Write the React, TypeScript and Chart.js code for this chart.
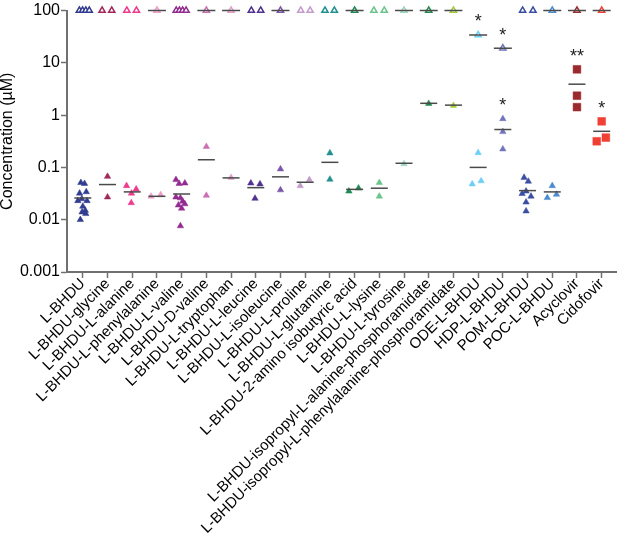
import React, { useEffect, useRef } from 'react';
import { Chart, registerables } from 'chart.js';

Chart.register(...registerables);

const FONT = '"Liberation Sans", Arial, Helvetica, sans-serif';

const categories = [
  'L-BHDU',
  'L-BHDU-glycine',
  'L-BHDU-L-alanine',
  'L-BHDU-L-phenylalanine',
  'L-BHDU-L-valine',
  'L-BHDU-D-valine',
  'L-BHDU-L-tryptophan',
  'L-BHDU-L-leucine',
  'L-BHDU-L-isoleucine',
  'L-BHDU-L-proline',
  'L-BHDU-L-glutamine',
  'L-BHDU-2-amino isobutyric acid',
  'L-BHDU-L-lysine',
  'L-BHDU-L-tyrosine',
  'L-BHDU-isopropyl-L-alanine-phosphoramidate',
  'L-BHDU-isopropyl-L-phenylalanine-phosphoramidate',
  'ODE-L-BHDU',
  'HDP-L-BHDU',
  'POM-L-BHDU',
  'POC-L-BHDU',
  'Acyclovir',
  'Cidofovir',
];

const colors = [
  '#313c91', '#a0285a', '#ec3a8c', '#ef9cc7', '#922b90', '#c970b5', '#e69dcb',
  '#503090', '#7b56aa', '#c49ccc', '#21908f', '#1c8b55', '#6cc48c', '#9bd6bd',
  '#208a4f', '#a3cc3c', '#6dcff6', '#7275bc', '#3a4ea2', '#4b8bd0', '#9b2a2e', '#f04035',
];

// EC50 values (filled markers) per category
const ec50Values: number[][] = [
  [0.051, 0.049, 0.034, 0.032, 0.025, 0.023, 0.023, 0.018, 0.015, 0.014, 0.013, 0.010],
  [0.067, 0.027],
  [0.0445, 0.0385, 0.032, 0.021],
  [0.028, 0.030],
  [0.058, 0.049, 0.050, 0.027, 0.026, 0.0225, 0.019, 0.0165, 0.020, 0.0076],
  [0.25, 0.029],
  [0.064],
  [0.050, 0.048, 0.0255],
  [0.093, 0.037],
  [0.0445, 0.058],
  [0.188, 0.059],
  [0.035, 0.040],
  [0.051, 0.028],
  [0.117],
  [1.66],
  [1.52],
  [0.19, 0.048, 0.055],
  [0.85, 0.48, 0.224],
  [0.064, 0.054, 0.0315, 0.035, 0.028, 0.0216, 0.0146],
  [0.0445, 0.0263, 0.0304],
  [7.5, 2.35, 1.42],
  [0.76, 0.316, 0.371],
];

// horizontal scatter (in category units) of each EC50 point
const ec50Jitter: number[][] = [
  [-0.08, 0.07, 0.14, -0.13, -0.04, -0.2, 0.17, 0, 0.1, -0.03, 0.12, -0.1],
  [0, 0],
  [-0.23, 0.16, -0.03, -0.04],
  [-0.24, 0.15],
  [-0.23, -0.1, 0.13, -0.23, -0.05, 0.04, -0.13, 0, 0.13, -0.05],
  [0, 0],
  [0],
  [-0.2, 0.17, -0.03],
  [0, 0],
  [-0.2, 0.17],
  [0, 0],
  [-0.23, 0.16],
  [0, 0],
  [0],
  [0],
  [0],
  [0, -0.24, 0.12],
  [0, 0, 0],
  [-0.14, 0.03, -0.22, -0.06, 0.14, -0.06, -0.06],
  [0, -0.2, 0.17],
  [0, 0, 0],
  [0, -0.2, 0.17],
];

// CC50 values (open triangles) per category
const cc50Values: number[][] = [
  [100, 100, 100, 100],
  [100, 100],
  [100, 100],
  [100],
  [100, 100, 100, 100],
  [100],
  [100],
  [100, 100],
  [100],
  [100, 100],
  [100, 100],
  [100],
  [100, 100],
  [100],
  [100],
  [100],
  [34],
  [19],
  [100, 100],
  [100],
  [100],
  [100],
];

const cc50Jitter: number[][] = [
  [-0.14, -0.01, 0.12, 0.26],
  [-0.22, 0.17],
  [-0.22, 0.17],
  [0],
  [-0.22, -0.09, 0.04, 0.18],
  [0],
  [0],
  [-0.18, 0.2],
  [0],
  [-0.18, 0.2],
  [-0.2, 0.18],
  [0],
  [-0.22, 0.2],
  [0],
  [0],
  [0],
  [0],
  [0],
  [-0.2, 0.22],
  [0],
  [0],
  [0],
];

const ec50Means: number[] = [
  0.026, 0.047, 0.034, 0.028, 0.031, 0.14, 0.063, 0.041, 0.066, 0.052, 0.125,
  0.038, 0.040, 0.12, 1.68, 1.55, 0.10, 0.53, 0.036, 0.034, 3.9, 0.49,
];

const cc50Means: (number | null)[] = [
  null, null, null, 100, null, 100, 100, null, 100, null, null,
  100, null, 100, 100, 100, 34, 19, null, 100, 100, 100,
];

const squareCategories = [20, 21];

const starCategory = [16, 17, 17, 20, 21];
const starValue = [75, 41, 1.9, 16, 1.66];
const starText = ['*', '*', '*', '**', '*'];

const yTicks = [0.001, 0.01, 0.1, 1, 10, 100];
const yTickLabels = ['0.001', '0.01', '0.1', '1', '10', '100'];

const AXIS = '#707070';
const MEAN = '#4a4a4a';

const starPlugin = {
  id: 'stars',
  afterDatasetsDraw(chart: any) {
    const { ctx } = chart;
    const xs = chart.scales.x;
    const ys = chart.scales.y;
    const size = 18;
    ctx.save();
    ctx.font = `${size}px ${FONT}`;
    ctx.fillStyle = '#222';
    ctx.textAlign = 'center';
    ctx.textBaseline = 'alphabetic';
    starText.forEach((t, i) => {
      const px = xs.getPixelForValue(starCategory[i]);
      const py = ys.getPixelForValue(starValue[i]);
      ctx.fillText(t, px, py + size * 0.57);
    });
    ctx.restore();
  },
};

export default function App() {
  const ref = useRef<HTMLCanvasElement>(null);

  useEffect(() => {
    document.body.style.margin = '0';
    const ec50Points: { x: number; y: number }[] = [];
    const ec50Colors: string[] = [];
    const ec50Styles: string[] = [];
    const ec50Radius: number[] = [];
    ec50Values.forEach((vals, i) =>
      vals.forEach((v, j) => {
        const sq = squareCategories.includes(i);
        ec50Points.push({ x: i + ec50Jitter[i][j], y: v });
        ec50Colors.push(colors[i]);
        ec50Styles.push(sq ? 'rect' : 'triangle');
        ec50Radius.push(sq ? 5.5 : 3.7);
      })
    );
    const cc50Points: { x: number; y: number }[] = [];
    const cc50Colors: string[] = [];
    cc50Values.forEach((vals, i) =>
      vals.forEach((v, j) => {
        cc50Points.push({ x: i + cc50Jitter[i][j], y: v });
        cc50Colors.push(colors[i]);
      })
    );
    const ec50MeanPts = ec50Means.map((m, i) => ({ x: i, y: m }));
    const cc50MeanPts = cc50Means
      .map((m, i) => (m === null ? null : { x: i, y: m }))
      .filter((p) => p !== null) as { x: number; y: number }[];

    const chart = new Chart(ref.current!, {
      type: 'scatter',
      data: {
        datasets: [
          {
            label: 'EC50 mean',
            data: ec50MeanPts,
            pointStyle: 'line',
            pointRadius: 8.5,
            pointBorderColor: MEAN,
            pointBorderWidth: 1.5,
            order: 0,
            clip: false,
          } as any,
          {
            label: 'CC50 mean',
            data: cc50MeanPts,
            pointStyle: 'line',
            pointRadius: 9,
            pointBorderColor: MEAN,
            pointBorderWidth: 1.5,
            order: 0,
            clip: false,
          } as any,
          {
            label: 'EC50',
            data: ec50Points,
            pointStyle: ec50Styles,
            pointRadius: ec50Radius,
            pointBackgroundColor: ec50Colors,
            pointBorderColor: ec50Colors,
            pointBorderWidth: 0.5,
            order: 1,
            clip: false,
          } as any,
          {
            label: 'CC50',
            data: cc50Points,
            pointStyle: 'triangle',
            pointRadius: 3.6,
            pointBackgroundColor: '#ffffff',
            pointBorderColor: cc50Colors,
            pointBorderWidth: 1.5,
            order: 1,
            clip: false,
          } as any,
        ],
      },
      options: {
        responsive: false,
        animation: false,
        devicePixelRatio: 1,
        layout: { padding: { top: 6, left: 0, right: 0, bottom: 0 } },
        plugins: { legend: { display: false }, tooltip: { enabled: false } },
        events: [],
        scales: {
          x: {
            type: 'linear',
            min: -0.64,
            max: 21.6,
            afterBuildTicks: (s: any) => {
              s.ticks = categories.map((_, i) => ({ value: i }));
            },
            afterFit: (s: any) => {
              s.height = 279;
              s.paddingLeft = 0;
              s.paddingRight = 0;
            },
            ticks: {
              autoSkip: false,
              minRotation: 45,
              maxRotation: 45,
              padding: -3,
              color: '#000',
              font: { family: FONT, size: 15 },
              callback: (v: any) => categories[v as number] ?? '',
            },
            grid: {
              drawOnChartArea: false,
              drawTicks: true,
              tickLength: 6,
              tickWidth: 1.5,
              tickColor: AXIS,
            },
            border: { color: AXIS, width: 2 },
          } as any,
          y: {
            type: 'logarithmic',
            min: 0.001,
            max: 100,
            afterBuildTicks: (s: any) => {
              s.ticks = yTicks.map((v) => ({ value: v }));
            },
            afterFit: (s: any) => {
              s.width = 67;
              s.paddingTop = 0;
              s.paddingBottom = 0;
            },
            ticks: {
              autoSkip: false,
              padding: 1,
              color: '#000',
              font: { family: FONT, size: 16 },
              callback: (v: any) => yTickLabels[yTicks.indexOf(Number(v))] ?? '',
            },
            grid: {
              drawOnChartArea: false,
              drawTicks: true,
              tickLength: 6,
              tickWidth: 1.5,
              tickColor: AXIS,
            },
            border: { color: AXIS, width: 2 },
            title: {
              display: true,
              text: 'Concentration (µM)',
              color: '#000',
              font: { family: FONT, size: 16, lineHeight: 1 },
              padding: { top: 0, bottom: 0 },
            },
          } as any,
        },
      },
      plugins: [starPlugin],
    });
    return () => chart.destroy();
  }, []);

  return (
    <div style={{ width: 627, height: 551 }}>
      <canvas ref={ref} width={627} height={551} style={{ display: 'block' }} />
    </div>
  );
}
